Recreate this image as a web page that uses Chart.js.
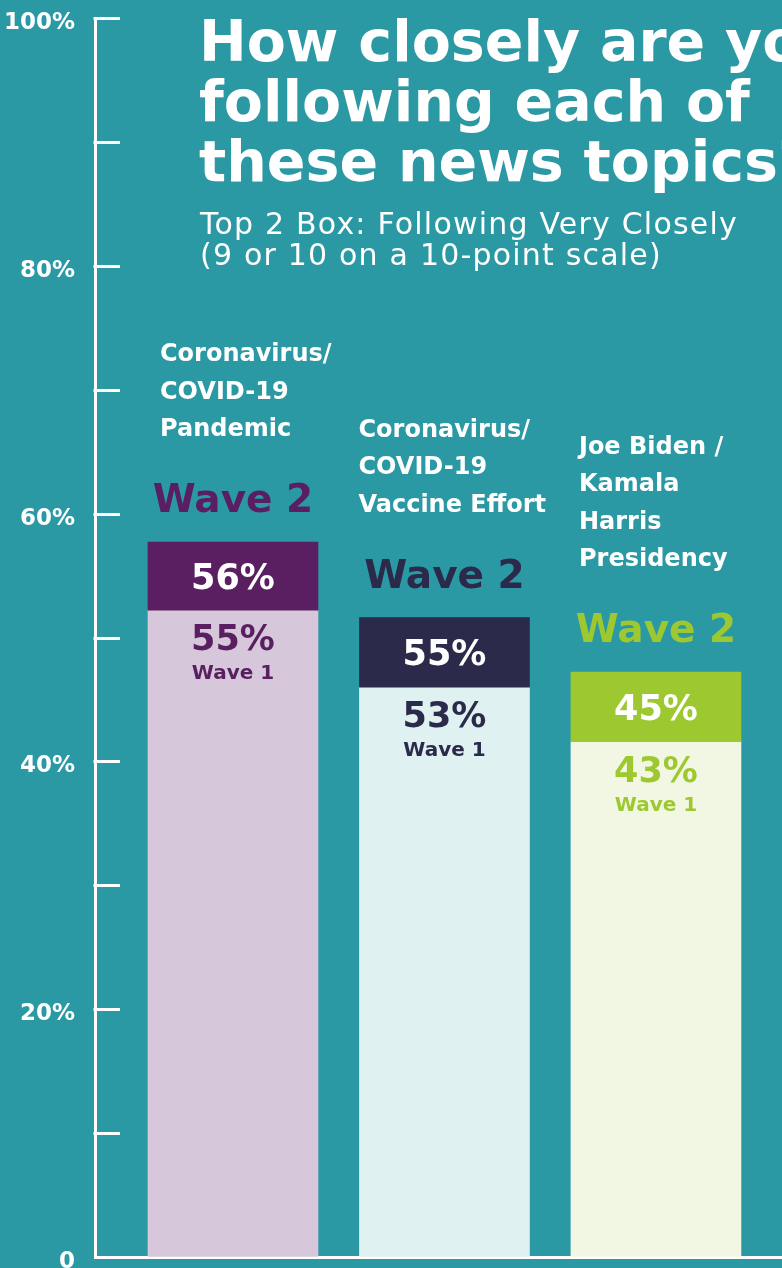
<!DOCTYPE html>
<html>
<head>
<meta charset="utf-8">
<script src="https://cdn.jsdelivr.net/npm/chart.js@4.4.1/dist/chart.umd.min.js"></script>
<style>
  html, body { margin: 0; padding: 0; width: 782px; height: 1268px; overflow: hidden; background: #2b99a4; }
  #wrap { position: relative; width: 782px; height: 1268px; overflow: hidden; }
  #c { position: absolute; left: 0; top: 0; }
  .title { position: absolute; left: 199px; top: 11px; color: #fff; font-family: "DejaVu Sans", sans-serif; font-weight: 700; font-size: 57px; line-height: 60px; white-space: nowrap; }
  .sub { position: absolute; left: 200px; top: 208px; color: #fff; font-family: "DejaVu Sans", sans-serif; font-weight: 400; font-size: 30px; line-height: 31px; letter-spacing: 1.2px; white-space: nowrap; }
</style>
</head>
<body>
<div id="wrap">
  <canvas id="c" width="782" height="1268"></canvas>
  <div class="title">How closely are you<br>following each of<br>these news topics?</div>
  <div class="sub">Top 2 Box: Following Very Closely<br>(9 or 10 on a 10-point scale)</div>
</div>
<script>
// ---- data ----
const categories = [
  ["Coronavirus/", "COVID-19", "Pandemic"],
  ["Coronavirus/", "COVID-19", "Vaccine Effort"],
  ["Joe Biden /", "Kamala", "Harris", "Presidency"]
];
const wave1Values = [55, 53, 43];          // labelled %
const wave2Values = [56, 55, 45];          // labelled %
const wave1BarHeights = [52.2, 46.0, 41.6]; // bar heights as drawn (% of axis)
const wave2BarHeights = [57.7, 51.6, 47.2];
const yTickLabels = ["0", "20%", "40%", "60%", "80%", "100%"];
const wave1Name = "Wave 1";
const wave2Name = "Wave 2";

// ---- style ----
const darkColors  = ["#5a1f60", "#2b2a4a", "#9dc82f"];
const lightColors = ["#d6c7da", "#e0f1f1", "#f2f7e3"];
const FONT = "DejaVu Sans";
const catLabelDx = [12, -1, 8];

const yTickMarks = {
  id: "yTickMarks",
  afterDraw(chart) {
    const y = chart.scales.y, ctx = chart.ctx, left = chart.chartArea.left;
    ctx.save();
    ctx.strokeStyle = "#fff";
    ctx.lineWidth = 3;
    y.ticks.forEach(t => {
      if (t.value === 0) return;
      const py = Math.round(y.getPixelForValue(t.value)) + 0.5;
      ctx.beginPath();
      ctx.moveTo(left - 1.5, py);
      ctx.lineTo(left + 25, py);
      ctx.stroke();
    });
    ctx.restore();
  }
};

const barLabels = {
  id: "barLabels",
  afterDatasetsDraw(chart) {
    const ctx = chart.ctx;
    const m1 = chart.getDatasetMeta(0).data;
    const m2 = chart.getDatasetMeta(1).data;
    ctx.save();
    ctx.textBaseline = "middle";
    for (let i = 0; i < m2.length; i++) {
      const b2 = m2[i], b1 = m1[i];
      const left = b2.x - b2.width / 2;
      const top2 = b2.y, base2 = b2.base;
      ctx.textAlign = "center";
      ctx.fillStyle = "#fff";
      ctx.font = `bold 35px "${FONT}"`;
      ctx.fillText(wave2Values[i] + "%", b2.x, (top2 + base2) / 2 + 4);
      ctx.fillStyle = darkColors[i];
      ctx.font = `bold 39px "${FONT}"`;
      ctx.fillText(wave2Name, b2.x, top2 - 40);
      const top1 = b1.y;
      ctx.font = `bold 35px "${FONT}"`;
      ctx.fillText(wave1Values[i] + "%", b1.x, top1 + 31);
      ctx.font = `bold 20px "${FONT}"`;
      ctx.fillText(wave1Name, b1.x, top1 + 64);
      ctx.textAlign = "left";
      ctx.fillStyle = "#fff";
      ctx.font = `bold 24px "${FONT}"`;
      const lines = categories[i];
      lines.forEach((ln, k) => {
        const yy = top2 - 112 - (lines.length - 1 - k) * 37.5;
        ctx.fillText(ln, left + catLabelDx[i], yy);
      });
    }
    ctx.restore();
  }
};

new Chart(document.getElementById("c"), {
  type: "bar",
  data: {
    datasets: [
      {
        label: wave1Name,
        data: wave1BarHeights.map((v, i) => ({ x: i, y: v })),
        backgroundColor: lightColors,
        grouped: false,
        barThickness: 170,
        order: 2
      },
      {
        label: wave2Name,
        data: wave2BarHeights.map((v, i) => ({ x: i, y: [wave1BarHeights[i], v] })),
        backgroundColor: darkColors,
        grouped: false,
        barThickness: 170,
        order: 1
      }
    ]
  },
  options: {
    responsive: false,
    animation: false,
    devicePixelRatio: 1,
    layout: { padding: { top: 18, bottom: 11, left: 0, right: 0 } },
    plugins: { legend: { display: false }, tooltip: { enabled: false }, title: { display: false } },
    scales: {
      x: {
        type: "linear",
        offset: false,
        min: -0.6525,
        max: 2.596,
        grid: { display: false, drawTicks: false },
        ticks: { display: false },
        border: { display: true, color: "#fff", width: 3 },
        afterFit(s) { s.height = 0; }
      },
      y: {
        min: 0,
        max: 100,
        ticks: {
          stepSize: 10,
          autoSkip: false,
          color: "#fff",
          padding: 0,
          labelOffset: 5,
          font: { family: FONT, weight: "bold", size: 23, lineHeight: 0.9 },
          callback: v => (v % 20 === 0 ? yTickLabels[v / 20] : "")
        },
        grid: { display: true, drawOnChartArea: false, drawTicks: true, tickLength: 20, color: "rgba(0,0,0,0)" },
        border: { display: true, color: "#fff", width: 3 },
        afterFit(s) { s.width = 95; }
      }
    }
  },
  plugins: [yTickMarks, barLabels]
});
</script>
</body>
</html>
